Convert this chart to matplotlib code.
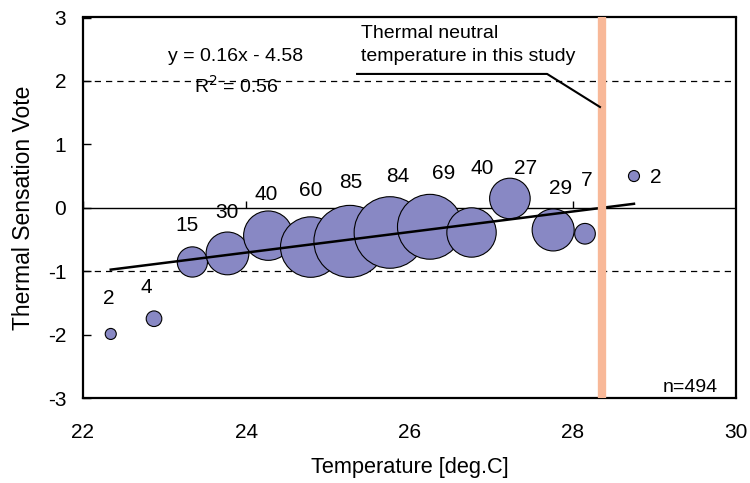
import matplotlib
matplotlib.use("Agg")
import matplotlib.pyplot as plt
import numpy as np

plt.rcParams['font.family'] = ['Liberation Sans', 'DejaVu Sans']
plt.rcParams['axes.unicode_minus'] = False

# ---- data ----
temperature = [22.34, 22.87, 23.34, 23.77, 24.27, 24.79, 25.27, 25.76, 26.25, 26.76, 27.23, 27.76, 28.15, 28.75]
tsv_mean    = [-1.99, -1.75, -0.855, -0.72, -0.44, -0.62, -0.53, -0.39, -0.30, -0.39, 0.146, -0.35, -0.41, 0.50]
counts      = [2, 4, 15, 30, 40, 60, 85, 84, 69, 40, 27, 29, 7, 2]
# label offsets (pixels right, pixels up) relative to each bubble centre
label_dx = [-2, -8, -5, -1, -2, 0, 1, 8, 14, 11, 16, 7, 2, 22]
label_dy = [35, 31, 36, 41, 41, 57, 59, 56, 53, 64, 30, 41, 53, -1]

fit_slope, fit_intercept = 0.162, -4.595
equation_text = "y = 0.16x - 4.58"
r2_text = "R$^2$ = 0.56"
neutral_temp = -fit_intercept / fit_slope
n_total = sum(counts)

xticks = [22, 24, 26, 28, 30]
yticks = [-3, -2, -1, 0, 1, 2, 3]

bubble_color = "#8888C4"
neutral_color = "#F8B898"

fig = plt.figure(figsize=(7.5, 4.83), dpi=100)
ax = fig.add_axes([83/750, (483-398)/483, (736-83)/750, (398-17.5)/483])
ax.set_xlim(22, 30)
ax.set_ylim(-3, 3)

# reference lines
for yv in (2, -1):
    ax.axhline(yv, color="black", lw=0.9, ls=(0, (5, 4)), zorder=1)
ax.axhline(0, color="black", lw=1.0, zorder=1)
# x tick marks drawn on the y=0 line
ax.vlines(xticks, 0, 0.11, color="black", lw=1.0, zorder=1)

# bubbles
sizes = [31.6 * c for c in counts]
ax.scatter(temperature, tsv_mean, s=sizes, color=bubble_color,
           edgecolors="black", linewidths=0.8, zorder=3)

# regression line
xfit = np.array([min(temperature), max(temperature)])
ax.plot(xfit, fit_slope * xfit + fit_intercept, color="black", lw=1.8, zorder=4)

# neutral temperature line
ax.axvline(neutral_temp, color=neutral_color, lw=6, zorder=5)

# bubble labels
for t, v, c, dx, dy in zip(temperature, tsv_mean, counts, label_dx, label_dy):
    ax.annotate(str(c), (t, v), xytext=(dx * 0.72, dy * 0.72),
                textcoords="offset points", ha="center", va="center",
                fontsize=15, zorder=6)

# equation
ax.text(23.875, 2.39, equation_text, ha="center", va="center", fontsize=14, zorder=6)
ax.text(23.875, 1.93, r2_text, ha="center", va="center", fontsize=14, zorder=6)

# annotation for neutral temperature
ax.text(25.41, 2.57, "Thermal neutral\ntemperature in this study", ha="left",
        va="center", fontsize=14, linespacing=1.45, zorder=6)
ax.plot([25.345, 27.686, neutral_temp - 0.02], [2.11, 2.11, 1.58],
        color="black", lw=1.5, zorder=6, solid_capstyle="butt")

ax.text(29.78, -2.84, f"n={n_total}", ha="right", va="center", fontsize=14, zorder=6)

# axes styling
ax.set_xticks(xticks)
ax.set_yticks(yticks)
ax.tick_params(axis="x", length=0, pad=18, labelsize=15)
ax.tick_params(axis="y", direction="in", length=6, width=1, pad=12, labelsize=15)
for sp in ax.spines.values():
    sp.set_linewidth(1.6)
ax.set_xlabel("Temperature [deg.C]", fontsize=15.7, labelpad=11)
ax.set_ylabel("Thermal Sensation Vote", fontsize=16.5, labelpad=9)

fig.savefig("out.png", dpi=100)
